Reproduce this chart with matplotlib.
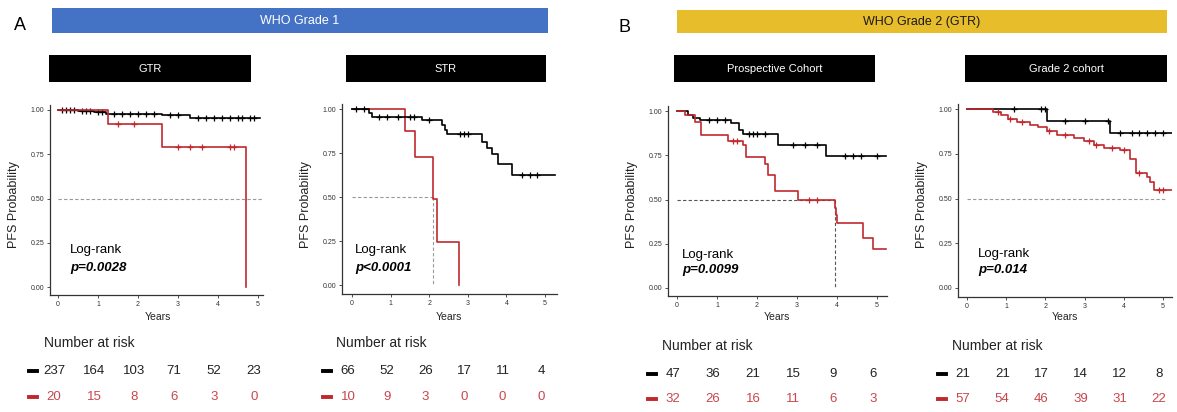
import matplotlib
matplotlib.use("Agg")
import matplotlib.pyplot as plt
import numpy as np
from matplotlib.patches import Rectangle
from matplotlib.lines import Line2D
from matplotlib.transforms import blended_transform_factory

plt.rcParams['font.family'] = ['Liberation Sans', 'DejaVu Sans']

# ---- data ----
# A / GTR
gtr_black_t = [0, 0.5, 0.9, 1.2, 2.6, 3.3, 5.05]
gtr_black_s = [1.0, 0.995, 0.99, 0.98, 0.97, 0.955, 0.955]
gtr_black_cens = [0.1, 0.2, 0.3, 0.4, 0.6, 0.7, 0.8, 1.0, 1.1, 1.4, 1.6, 1.8, 2.0,
                  2.2, 2.4, 2.8, 3.0, 3.5, 3.7, 3.9, 4.1, 4.3, 4.5, 4.6, 4.8, 4.9]
gtr_red_t = [0, 1.25, 2.6, 4.7, 4.7]
gtr_red_s = [1.0, 0.92, 0.79, 0.0, 0.0]
gtr_red_cens = [1.5, 1.9, 3.0, 3.3, 3.6, 4.3, 4.4]
gtr_risk_black = [237, 164, 103, 71, 52, 23]
gtr_risk_red = [20, 15, 8, 6, 3, 0]

# A / STR
str_black_t = [0, 0.43, 0.52, 1.81, 2.33, 2.41, 2.47, 3.36, 3.49, 3.62, 3.79, 4.14, 5.26]
str_black_s = [1.0, 0.98, 0.955, 0.94, 0.909, 0.88, 0.856, 0.81, 0.78, 0.742, 0.69, 0.625, 0.625]
str_black_cens = [0.1, 0.3, 0.7, 0.9, 1.2, 1.5, 1.6, 2.0, 2.8, 2.9, 3.0, 4.4, 4.6, 4.8]
str_red_t = [0, 1.38, 1.64, 2.11, 2.2, 2.78, 2.78]
str_red_s = [1.0, 0.875, 0.73, 0.49, 0.245, 0.0, 0.0]
str_red_cens = []
str_risk_black = [66, 52, 26, 17, 11, 4]
str_risk_red = [10, 9, 3, 0, 0, 0]

# B / Prospective cohort
pro_black_t = [0, 0.28, 0.4, 0.57, 1.36, 1.55, 1.65, 2.52, 3.73, 5.23]
pro_black_s = [1.0, 0.98, 0.96, 0.95, 0.93, 0.89, 0.868, 0.81, 0.745, 0.745]
pro_black_cens = [0.8, 1.0, 1.2, 1.8, 1.9, 2.0, 2.2, 2.9, 3.2, 3.5, 4.2, 4.4, 4.6, 5.0]
pro_red_t = [0, 0.19, 0.44, 0.6, 1.28, 1.65, 1.73, 2.19, 2.27, 2.44, 3.02, 3.94,
             3.98, 4.0, 4.65, 4.9, 5.23]
pro_red_s = [1.0, 0.98, 0.94, 0.865, 0.83, 0.81, 0.74, 0.7, 0.64, 0.55, 0.50, 0.45,
             0.41, 0.37, 0.28, 0.22, 0.22]
pro_red_cens = [1.4, 1.5, 3.3, 3.5]
pro_risk_black = [47, 36, 21, 15, 9, 6]
pro_risk_red = [32, 26, 16, 11, 6, 3]

# B / Grade 2 cohort
g2_black_t = [0, 2.03, 3.66, 5.24]
g2_black_s = [1.0, 0.935, 0.865, 0.865]
g2_black_cens = [1.2, 1.9, 2.0, 2.5, 3.0, 3.6, 3.9, 4.2, 4.4, 4.6, 4.8, 5.0]
g2_red_t = [0, 0.67, 0.88, 1.05, 1.27, 1.6, 1.8, 2.03, 2.29, 2.72, 2.98, 3.23, 3.49,
            3.91, 4.17, 4.3, 4.6, 4.68, 4.77, 5.24]
g2_red_s = [1.0, 0.985, 0.965, 0.945, 0.93, 0.91, 0.90, 0.875, 0.855, 0.84, 0.82, 0.80,
            0.78, 0.77, 0.72, 0.645, 0.62, 0.59, 0.55, 0.55]
g2_red_cens = [0.8, 1.1, 1.4, 2.1, 2.5, 3.1, 3.3, 3.7, 4.0, 4.4, 4.9, 5.0]
g2_risk_black = [21, 21, 17, 14, 12, 8]
g2_risk_red = [57, 54, 46, 39, 31, 22]

p_values = ['p=0.0028', 'p<0.0001', 'p=0.0099', 'p=0.014']
median_h_end = [5.1, 2.11, 3.95, 5.1]
median_v = [None, 2.11, 3.95, None]

RED = '#c0282d'
RED_TXT = '#c8464c'

W, H = 1177, 412
fig = plt.figure(figsize=(W / 100, H / 100), dpi=100)


def fx(x):
    return x / W


def fy(y):
    return 1 - y / H


def header(x0, x1, y0, y1, color, text, tcolor, size):
    fig.add_artist(Rectangle((fx(x0), fy(y1)), (x1 - x0) / W, (y1 - y0) / H,
                             transform=fig.transFigure, facecolor=color, edgecolor='none'))
    fig.text(fx((x0 + x1) / 2), fy((y0 + y1) / 2), text, color=tcolor,
             fontsize=size, ha='center', va='center')


def km(ax, t, s, cens, color):
    ax.step(t, s, where='post', color=color, lw=1.2)
    if cens:
        idx = np.searchsorted(t, cens, side='right') - 1
        ax.plot(cens, np.array(s)[idx], ls='none', marker='+', ms=4, mew=0.9, color=color)


def panel(i, px, curves, risk, rows_y, txt_px):
    left, right, top, bottom, x0, x5, y1, y0 = px
    ax = fig.add_axes([fx(left), fy(bottom), (right - left) / W, (bottom - top) / H])
    k = (x5 - x0) / 5
    ax.set_xlim((left - x0) / k, (right - x0) / k)
    ax.set_ylim((y0 - bottom) / (y0 - y1), (y0 - top) / (y0 - y1))
    for sp in ['top', 'right']:
        ax.spines[sp].set_visible(False)
    for sp in ['left', 'bottom']:
        ax.spines[sp].set_linewidth(0.9)
        ax.spines[sp].set_color('#333333')
    ax.set_xticks(range(6))
    ax.set_yticks([0, 0.25, 0.5, 0.75, 1.0])
    ax.set_yticklabels(['0.00', '0.25', '0.50', '0.75', '1.00'])
    ax.tick_params(labelsize=5, length=2, width=0.6, pad=2, colors='#333333')

    # median reference lines
    dash_col = '#555555' if i == 2 else '#999999'
    ax.plot([0, median_h_end[i]], [0.5, 0.5], ls=(0, (3, 2)), color=dash_col, lw=0.8)
    if median_v[i] is not None:
        ax.plot([median_v[i], median_v[i]], [0.5, 0], ls=(0, (3, 2)), color=dash_col, lw=0.8)

    for t, s, c, col in curves:
        km(ax, t, s, c, col)

    # labels
    fig.text(fx(left - 36), fy(205), 'PFS Probability', rotation=90, fontsize=9,
             ha='center', va='center', color='#222222')
    fig.text(fx((x0 + x5) / 2), fy(317), 'Years', fontsize=7.5, ha='center',
             va='center', color='#222222')

    tx, ty1, ty2 = txt_px
    fig.text(fx(tx), fy(ty1), 'Log-rank', fontsize=9.5, ha='left', va='center')
    fig.text(fx(tx), fy(ty2), p_values[i], fontsize=9.5, ha='left', va='center',
             fontweight='bold', fontstyle='italic')

    # risk table
    lab_y, row1, row2 = rows_y
    fig.text(fx(left - 6), fy(lab_y), 'Number at risk', fontsize=10, ha='left',
             va='center', color='#222222')
    tr = blended_transform_factory(ax.transData, fig.transFigure)
    for row_y, vals, col, lcol in [(row1, risk[0], '#222222', 'black'),
                                   (row2, risk[1], RED_TXT, RED)]:
        fig.add_artist(Line2D([fx(x0 - 29), fx(x0 - 21)], [fy(row_y), fy(row_y)],
                              transform=fig.transFigure, color=lcol, lw=2.8))
        for j, v in enumerate(vals):
            ax.text(j - 0.1, fy(row_y), str(v), transform=tr, fontsize=9.5,
                    ha='center', va='center', color=col, clip_on=False)
    return ax


# headers
fig.text(fx(20), fy(26), 'A', fontsize=13, ha='center', va='center')
fig.text(fx(624), fy(27), 'B', fontsize=13, ha='center', va='center')
header(52, 548, 8, 33, '#4472c4', 'WHO Grade 1', 'white', 9)
header(677, 1167, 10, 33, '#e8bd2c', 'WHO Grade 2 (GTR)', '#1a1a1a', 9)
header(49, 251, 55, 82, 'black', 'GTR', 'white', 8)
header(346, 546, 55, 82, 'black', 'STR', 'white', 8)
header(674, 875, 55, 82, 'black', 'Prospective Cohort', 'white', 8)
header(965, 1167, 55, 82, 'black', 'Grade 2 cohort', 'white', 8)

panel(0, (50, 263, 105, 295, 58, 258, 110, 287),
      [(gtr_black_t, gtr_black_s, gtr_black_cens, 'black'),
       (gtr_red_t, gtr_red_s, gtr_red_cens, RED)],
      (gtr_risk_black, gtr_risk_red), (343, 371, 397), (70, 250, 268))
panel(1, (342, 557, 104, 294, 352, 545, 109, 285),
      [(str_red_t, str_red_s, str_red_cens, RED),
       (str_black_t, str_black_s, str_black_cens, 'black')],
      (str_risk_black, str_risk_red), (343, 371, 397), (355, 250, 268))
panel(2, (668, 887, 106, 296, 677, 877, 111, 288),
      [(pro_black_t, pro_black_s, pro_black_cens, 'black'),
       (pro_red_t, pro_red_s, pro_red_cens, RED)],
      (pro_risk_black, pro_risk_red), (346, 374, 399), (682, 255, 270))
panel(3, (958, 1172, 104, 297, 967, 1163, 109, 288),
      [(g2_black_t, g2_black_s, g2_black_cens, 'black'),
       (g2_red_t, g2_red_s, g2_red_cens, RED)],
      (g2_risk_black, g2_risk_red), (346, 374, 399), (978, 254, 270))

fig.savefig('out.png', dpi=100)
